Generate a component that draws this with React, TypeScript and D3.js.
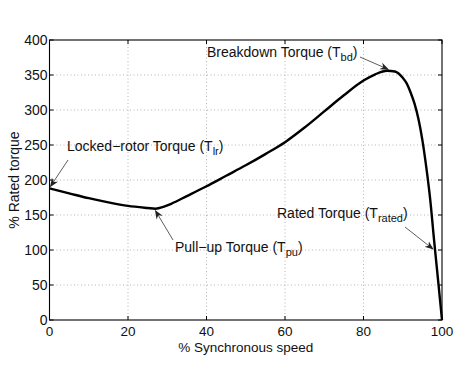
import React from "react";
import * as d3 from "d3";

const speed = [0, 5, 10, 15, 20, 25, 27, 29, 31, 35, 40, 45, 50, 55, 60, 65, 70, 75, 80, 83, 86, 88, 90, 91, 92, 93, 94, 95, 96, 97, 98, 99, 100];
const torque = [188, 181, 174, 168, 163, 160, 159, 161.5, 166, 177, 191, 206, 221, 237, 254, 275, 298, 321, 342, 351, 356, 355, 346, 338, 325, 309, 287, 257, 218, 172, 113, 57, 0];
const xTicks = [0, 20, 40, 60, 80, 100];
const yTicks = [0, 50, 100, 150, 200, 250, 300, 350, 400];

const W = 474, H = 372;
const M = { left: 49.5, right: 442, top: 40, bottom: 320 };
const FONT = "'Liberation Sans', Arial, Helvetica, sans-serif";

export default function App() {
  const x = d3.scaleLinear().domain([0, 100]).range([M.left, M.right]);
  const y = d3.scaleLinear().domain([0, 400]).range([M.bottom, M.top]);
  const pts: [number, number][] = speed.map((s, i) => [s, torque[i]]);
  const line = d3.line<[number, number]>().x(d => x(d[0])).y(d => y(d[1])).curve(d3.curveMonotoneX);
  const tick = 4;

  const arrow = (x1: number, y1: number, x2: number, y2: number, key: string) => (
    <line key={key} x1={x1} y1={y1} x2={x2} y2={y2} stroke="#333" strokeWidth={0.8} markerEnd="url(#ah)" />
  );

  return (
    <svg width={W} height={H} style={{ position: "absolute", left: 0, top: 0, background: "#fff" }} fontFamily={FONT}>
      <defs>
        <marker id="ah" viewBox="0 0 10 10" refX="9" refY="5" markerWidth="9" markerHeight="9" markerUnits="userSpaceOnUse" orient="auto">
          <path d="M0,1 L10,5 L0,9 L3,5 Z" fill="#222" />
        </marker>
      </defs>
      <rect x={0} y={0} width={W} height={H} fill="#fff" />
      {/* grid */}
      {xTicks.slice(1, -1).map(t => (
        <line key={"gx" + t} x1={x(t)} x2={x(t)} y1={M.top} y2={M.bottom} stroke="#b5b5b5" strokeWidth={1} strokeDasharray="1 2.5" />
      ))}
      {yTicks.slice(1, -1).map(t => (
        <line key={"gy" + t} x1={M.left} x2={M.right} y1={y(t)} y2={y(t)} stroke="#b5b5b5" strokeWidth={1} strokeDasharray="1 2.5" />
      ))}
      {/* ticks */}
      {xTicks.map(t => (
        <g key={"tx" + t}>
          <line x1={x(t)} x2={x(t)} y1={M.bottom} y2={M.bottom - tick} stroke="#000" />
          <line x1={x(t)} x2={x(t)} y1={M.top} y2={M.top + tick} stroke="#000" />
          <text x={x(t)} y={M.bottom + 16} textAnchor="middle" fontSize={13.5} fill="#111">{t}</text>
        </g>
      ))}
      {yTicks.map(t => (
        <g key={"ty" + t}>
          <line x1={M.left} x2={M.left + tick} y1={y(t)} y2={y(t)} stroke="#000" />
          <line x1={M.right} x2={M.right - tick} y1={y(t)} y2={y(t)} stroke="#000" />
          <text x={M.left - 2} y={y(t) + 5} textAnchor="end" fontSize={14} fill="#111">{t}</text>
        </g>
      ))}
      {/* box */}
      <rect x={M.left} y={M.top} width={M.right - M.left} height={M.bottom - M.top} fill="none" stroke="#000" strokeWidth={1.1} />
      {/* curve */}
      <path d={line(pts) || ""} fill="none" stroke="#000" strokeWidth={2.4} strokeLinejoin="round" />
      {/* axis labels */}
      <text x={(M.left + M.right) / 2} y={352} textAnchor="middle" fontSize={13.5} fill="#111">% Synchronous speed</text>
      <text transform={`translate(19,${(M.top + M.bottom) / 2}) rotate(-90)`} textAnchor="middle" fontSize={14} fill="#111">% Rated torque</text>
      {/* annotations */}
      <text x={207} y={57} fontSize={14} fill="#111">Breakdown Torque (T<tspan dy={4} fontSize={11}>bd</tspan><tspan dy={-4}>)</tspan></text>
      {arrow(360, 57, x(86.3), y(356) - 1.5, "a1")}
      <text x={67} y={151} fontSize={14} fill="#111">Locked−rotor Torque (T<tspan dy={4} fontSize={11}>lr</tspan><tspan dy={-4}>)</tspan></text>
      {arrow(68, 160, x(0) + 1, y(188) - 2, "a2")}
      <text x={175} y={252} fontSize={14} fill="#111">Pull−up Torque (T<tspan dy={4} fontSize={11}>pu</tspan><tspan dy={-4}>)</tspan></text>
      {arrow(173, 240, x(27), y(159) + 2, "a3")}
      <text x={277} y={218} fontSize={14} fill="#111">Rated Torque (T<tspan dy={4} fontSize={11}>rated</tspan><tspan dy={-4}>)</tspan></text>
      {arrow(405, 227, x(98.2) - 2, y(100) - 1, "a4")}
    </svg>
  );
}
